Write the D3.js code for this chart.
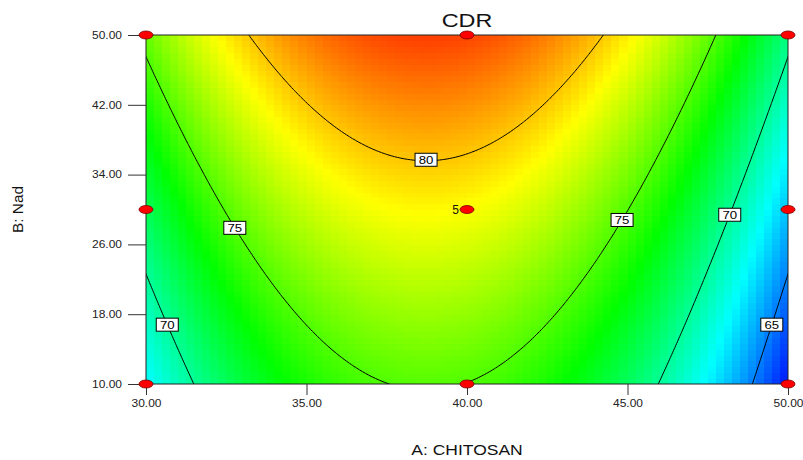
<!DOCTYPE html>
<html><head><meta charset="utf-8">
<script src="https://cdn.jsdelivr.net/npm/d3@7"></script>
<style>body{margin:0;background:#fff} svg{display:block}</style>
</head><body><svg id="chart" width="803" height="460"></svg>
<script>
// CDR response surface, quadratic model in coded units:
// x1 = (A - 40) / 10, x2 = (B - 30) / 20
const modelTerms = ["Intercept", "A", "B", "AB", "A^2", "B^2"];
const modelCoefs = [78.73, -2.50, 3.93, 0.0, -9.80, 0.17];
const contourLevels = [65, 70, 75, 80];
// contour label placement: level, B value, branch (-1 left, 0 vertex, 1 right)
const labelLevels = [80, 75, 75, 70, 70, 65];
const labelB = [35.7, 27.9, 28.8, 16.8, 29.4, 16.8];
const labelSide = [0, -1, 1, -1, 1, 1];
// design points
const designA = [30, 40, 50, 30, 40, 50, 30, 40, 50];
const designB = [50, 50, 50, 30, 30, 30, 10, 10, 10];
const centerReps = 5;
const xTicks = [30, 35, 40, 45, 50];
const yTicks = [10, 18, 26, 34, 42, 50];
const colorDomain = [62.3, 84.3];

const [b0, bA, bB, bAB, bAA, bBB] = modelCoefs;
function cdr(A, B) {
  const x1 = (A - 40) / 10, x2 = (B - 30) / 20;
  return b0 + bA * x1 + bB * x2 + bAB * x1 * x2 + bAA * x1 * x1 + bBB * x2 * x2;
}
// A on a given contour at a given B
function solveA(level, B, side) {
  const x2 = (B - 30) / 20;
  const a = bAA, b = bA + bAB * x2, c = b0 + bB * x2 + bBB * x2 * x2 - level;
  if (side === 0) return 40 + 10 * (-b / (2 * a));
  const r = Math.sqrt(Math.max(b * b - 4 * a * c, 0));
  const xa = (-b - r) / (2 * a), xb = (-b + r) / (2 * a);
  const x1 = side < 0 ? Math.min(xa, xb) : Math.max(xa, xb);
  return 40 + 10 * x1;
}

const svg = d3.select("#chart");
const x = d3.scaleLinear([30, 50], [146, 788]);
const y = d3.scaleLinear([10, 50], [384, 35]);
const hue = d3.scaleLinear(colorDomain, [240, 0]).clamp(true);
const color = v => d3.hsl(hue(v), 1, 0.5).formatHex();
const font = "'Liberation Sans', Arial, sans-serif";

svg.append("defs").append("clipPath").attr("id", "plotClip")
  .append("rect").attr("x", x(30)).attr("y", y(50))
  .attr("width", x(50) - x(30)).attr("height", y(10) - y(50));

// shaded surface cells
const nCols = 80, nRows = 60;
const cells = [];
for (let j = 0; j < nRows; j++) {
  for (let i = 0; i < nCols; i++) {
    const A0 = 30 + 20 * i / nCols, A1 = 30 + 20 * (i + 1) / nCols;
    const B0 = 10 + 40 * j / nRows, B1 = 10 + 40 * (j + 1) / nRows;
    cells.push({A0, A1, B0, B1, v: cdr((A0 + A1) / 2, (B0 + B1) / 2)});
  }
}
svg.append("g").attr("clip-path", "url(#plotClip)")
  .selectAll("rect").data(cells).join("rect")
  .attr("x", d => x(d.A0)).attr("y", d => y(d.B1))
  .attr("width", d => x(d.A1) - x(d.A0) + 0.6)
  .attr("height", d => y(d.B0) - y(d.B1) + 0.6)
  .attr("fill", d => color(d.v))
  .attr("shape-rendering", "crispEdges");

// contour lines from a fine grid that extends past the plot edges
const gA0 = 28, gA1 = 52, gB0 = 6, gB1 = 54, nx = 240, ny = 240;
const dA = (gA1 - gA0) / (nx - 1), dB = (gB1 - gB0) / (ny - 1);
const grid = new Array(nx * ny);
for (let j = 0; j < ny; j++)
  for (let i = 0; i < nx; i++)
    grid[j * nx + i] = cdr(gA0 + i * dA, gB0 + j * dB);
const contours = d3.contours().size([nx, ny]).thresholds(contourLevels)(grid);
const ringLine = d3.line()
  .x(p => x(gA0 + (p[0] - 0.5) * dA))
  .y(p => y(gB0 + (p[1] - 0.5) * dB));
const gLines = svg.append("g").attr("clip-path", "url(#plotClip)");
contours.forEach(c => {
  c.coordinates.forEach(poly => poly.forEach(ring => {
    gLines.append("path").attr("d", ringLine(ring) + "Z")
      .attr("fill", "none").attr("stroke", "#000").attr("stroke-width", 1);
  }));
});

// plot frame
svg.append("rect").attr("x", x(30)).attr("y", y(50))
  .attr("width", x(50) - x(30)).attr("height", y(10) - y(50))
  .attr("fill", "none").attr("stroke", "#222").attr("stroke-width", 1);

// axes
function stretchText(sel, sx) {
  sel.selectAll("text").each(function () {
    const t = d3.select(this);
    const tx = +t.attr("x") || 0, ty = +t.attr("y") || 0;
    t.attr("x", 0).attr("y", 0)
      .attr("transform", `translate(${tx},${ty}) scale(${sx},1)`);
  });
}
const fmt = d3.format(".2f");
const gx = svg.append("g").attr("transform", `translate(0,${y(10)})`)
  .call(d3.axisBottom(x).tickValues(xTicks).tickFormat(fmt).tickSize(11).tickPadding(5));
const gy = svg.append("g").attr("transform", `translate(${x(30)},0)`)
  .call(d3.axisLeft(y).tickValues(yTicks).tickFormat(fmt).tickSize(18).tickPadding(6));
[gx, gy].forEach(g => {
  g.select(".domain").remove();
  g.selectAll("line").attr("stroke", "#333");
  g.selectAll("text").attr("font-family", font).attr("font-size", 10).attr("fill", "#222");
  stretchText(g, 1.2);
});

// design points
const pts = designA.map((a, i) => ({A: a, B: designB[i]}));
svg.append("g").selectAll("ellipse").data(pts).join("ellipse")
  .attr("cx", d => x(d.A)).attr("cy", d => y(d.B))
  .attr("rx", 7).attr("ry", 4)
  .attr("fill", "#ff0000").attr("stroke", "#700").attr("stroke-width", 0.8);
svg.append("text").attr("x", x(40) - 8).attr("y", y(30) + 4.5)
  .attr("text-anchor", "end").attr("font-family", font).attr("font-size", 12)
  .attr("fill", "#111").text(centerReps);

// contour labels
const gLab = svg.append("g");
labelLevels.forEach((lv, i) => {
  const B = labelB[i], A = solveA(lv, B, labelSide[i]);
  const cx = x(A), cy = y(B);
  const g = gLab.append("g").attr("transform", `translate(${cx},${cy})`);
  g.append("rect").attr("x", -11).attr("y", -6.5).attr("width", 22).attr("height", 13)
    .attr("fill", "#fff").attr("stroke", "#000").attr("stroke-width", 1);
  g.append("text").attr("text-anchor", "middle").attr("y", 4)
    .attr("transform", "scale(1.2,1)")
    .attr("font-family", font).attr("font-size", 11).attr("fill", "#000").text(lv);
});

// titles
svg.append("text").attr("transform", `translate(${x(40)},27) scale(1.3,1)`)
  .attr("text-anchor", "middle").attr("font-family", font).attr("font-size", 18)
  .attr("fill", "#111").text("CDR");
svg.append("text").attr("transform", `translate(${x(40)},455) scale(1.25,1)`)
  .attr("text-anchor", "middle").attr("font-family", font).attr("font-size", 14)
  .attr("fill", "#111").text("A: CHITOSAN");
svg.append("text").attr("transform", `translate(23,${(y(10) + y(50)) / 2}) rotate(-90) scale(1.1,1)`)
  .attr("text-anchor", "middle").attr("font-family", font).attr("font-size", 14)
  .attr("fill", "#111").text("B: Nad");
</script>
</body></html>
